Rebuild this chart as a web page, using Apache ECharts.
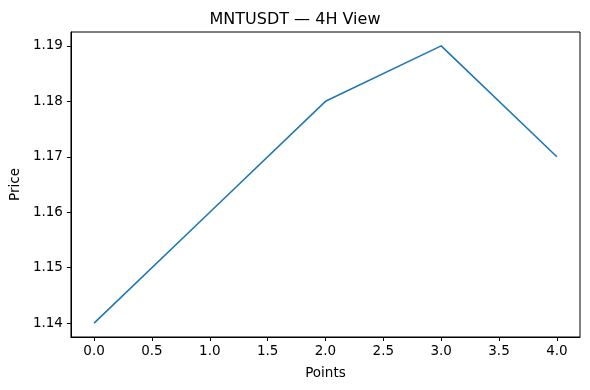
<!DOCTYPE html>
<html><head><meta charset="utf-8">
<script src="https://cdn.jsdelivr.net/npm/echarts@6/dist/echarts.min.js"></script>
<style>html,body{margin:0;padding:0;background:#fff}#c{width:590px;height:390px}</style>
</head><body><div id="c"></div>
<script>
const xPoints = [0, 1, 2, 3, 4];
const prices = [1.14, 1.16, 1.18, 1.19, 1.17];
const xTicks = [0, 0.5, 1, 1.5, 2, 2.5, 3, 3.5, 4];
const yTicks = [1.14, 1.15, 1.16, 1.17, 1.18, 1.19];
const title = 'MNTUSDT — 4H View';

const font = 'DejaVu Sans';
const chart = echarts.init(document.getElementById('c'), null, {renderer: 'canvas'});
chart.setOption({
  animation: false,
  title: {text: title, left: 'center', top: 7, textStyle: {fontFamily: font, fontSize: 16, fontWeight: 'normal', color: '#000'}},
  grid: {left: 70, right: 10, top: 32, bottom: 53, containLabel: false, show: true, borderColor: '#000', borderWidth: 1},
  xAxis: {
    type: 'value', min: -0.2, max: 4.2,
    name: 'Points', nameLocation: 'middle', nameGap: 29,
    nameTextStyle: {fontFamily: font, fontSize: 13.5, color: '#000'},
    axisLine: {show: true, onZero: false, lineStyle: {color: '#000', width: 1}},
    axisTick: {show: true, length: 4, customValues: xTicks, lineStyle: {color: '#000'}},
    axisLabel: {customValues: xTicks, fontFamily: font, fontSize: 13.5, color: '#000', margin: 7, formatter: v => v.toFixed(1)},
    splitLine: {show: false}
  },
  yAxis: {
    type: 'value', min: 1.1375, max: 1.1925,
    name: 'Price', nameLocation: 'middle', nameGap: 48,
    nameTextStyle: {fontFamily: font, fontSize: 13.5, color: '#000'},
    axisLine: {show: true, onZero: false, lineStyle: {color: '#000', width: 1}},
    axisTick: {show: true, length: 4, customValues: yTicks, lineStyle: {color: '#000'}},
    axisLabel: {customValues: yTicks, fontFamily: font, fontSize: 13.5, color: '#000', margin: 8, formatter: v => v.toFixed(2)},
    splitLine: {show: false}
  },
  series: [{
    type: 'line',
    data: xPoints.map((x, i) => [x, prices[i]]),
    showSymbol: false,
    lineStyle: {color: '#1f77b4', width: 1.6},
    itemStyle: {color: '#1f77b4'}
  }]
});
</script></body></html>
